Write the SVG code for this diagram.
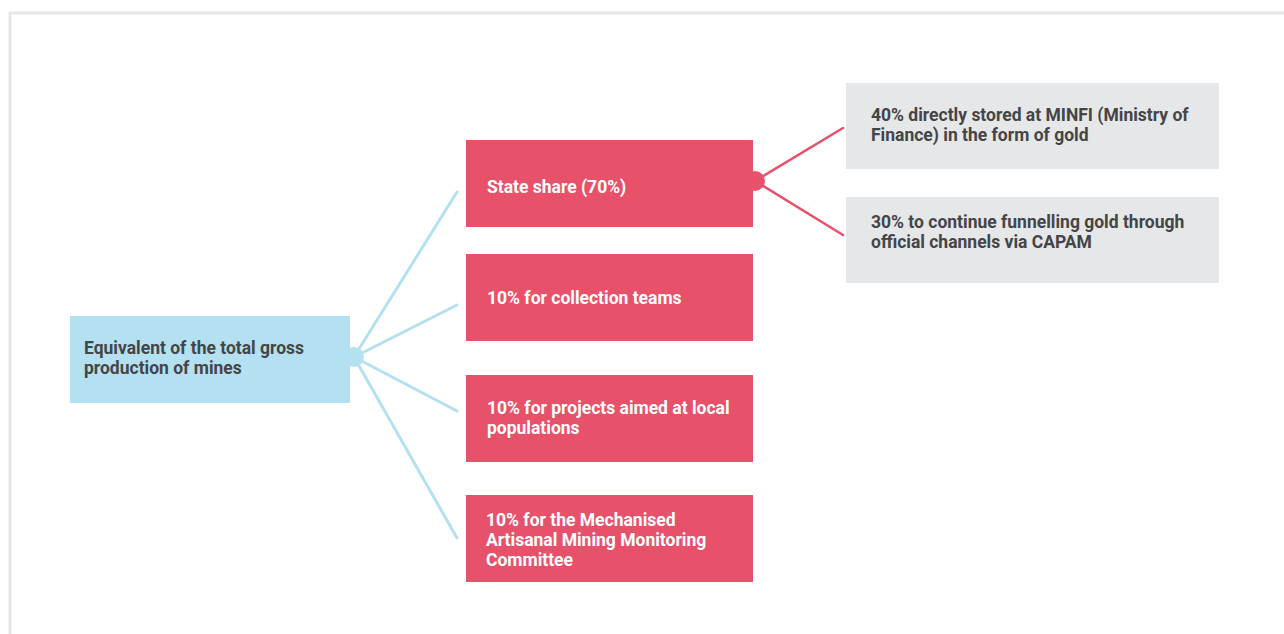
<svg xmlns="http://www.w3.org/2000/svg" width="1284" height="634" viewBox="0 0 1284 634">
<style>
.t{font-family:Roboto,"Liberation Sans",sans-serif;font-weight:bold;font-size:17.5px}
.dk{fill:#444546}
.wh{fill:#ffffff}
.red{fill:#e8516a}
.gray{fill:#e6e7e9}
.blue{fill:#b3e1f2}
.bl{stroke:#b3e1f2;stroke-width:3;fill:none;stroke-linecap:round}
.rl{stroke:#e8516a;stroke-width:2.5;fill:none;stroke-linecap:round}
</style>
<rect x="0" y="0" width="1284" height="634" fill="#ffffff"/>
<rect x="10" y="13" width="1290" height="640" fill="none" stroke="#e7e7e7" stroke-width="3"/>
<g id="connectors">
<line class="bl" x1="354" y1="357" x2="457" y2="192"/>
<line class="bl" x1="354" y1="357" x2="457" y2="305"/>
<line class="bl" x1="354" y1="357" x2="457" y2="411"/>
<line class="bl" x1="354" y1="357" x2="457" y2="538"/>
<line class="rl" x1="755" y1="181" x2="843" y2="128"/>
<line class="rl" x1="755" y1="181" x2="843" y2="235"/>
</g>
<g id="root">
<rect class="blue" x="70" y="316" width="280" height="87"/>
<circle class="blue" cx="354" cy="357" r="10"/>
<text class="t dk" x="84" y="354">Equivalent of the total gross</text>
<text class="t dk" x="84" y="374">production of mines</text>
</g>
<g id="state">
<rect class="red" x="466" y="140" width="287" height="87"/>
<circle class="red" cx="755" cy="181" r="10"/>
<text class="t wh" x="487" y="193">State share (70%)</text>
</g>
<g id="collection">
<rect class="red" x="466" y="254" width="287" height="87"/>
<text class="t wh" x="487" y="304">10% for collection teams</text>
</g>
<g id="projects">
<rect class="red" x="466" y="375" width="287" height="87"/>
<text class="t wh" x="487" y="414">10% for projects aimed at local</text>
<text class="t wh" x="487" y="434">populations</text>
</g>
<g id="committee">
<rect class="red" x="466" y="495" width="287" height="87"/>
<text class="t wh" x="486" y="526">10% for the Mechanised</text>
<text class="t wh" x="486" y="546">Artisanal Mining Monitoring</text>
<text class="t wh" x="486" y="566">Committee</text>
</g>
<g id="minfi">
<rect class="gray" x="846" y="83" width="373" height="86"/>
<text class="t dk" x="871" y="121">40% directly stored at MINFI (Ministry of</text>
<text class="t dk" x="871" y="141">Finance) in the form of gold</text>
</g>
<g id="capam">
<rect class="gray" x="846" y="197" width="373" height="86"/>
<text class="t dk" x="871" y="228">30% to continue funnelling gold through</text>
<text class="t dk" x="871" y="248">official channels via CAPAM</text>
</g>
</svg>
